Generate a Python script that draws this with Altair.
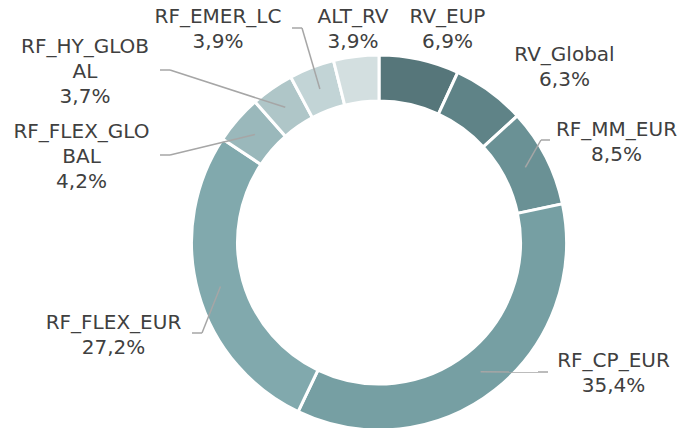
import altair as alt
import pandas as pd

# ---- data -------------------------------------------------------------
categories = ["RV_EUP", "RV_Global", "RF_MM_EUR", "RF_CP_EUR", "RF_FLEX_EUR",
              "RF_FLEX_GLOBAL", "RF_HY_GLOBAL", "RF_EMER_LC", "ALT_RV"]
shares = [6.9, 6.3, 8.5, 35.4, 27.2, 4.2, 3.7, 3.9, 3.9]
# names as they wrap in the labels
label_names = ["RV_EUP", "RV_Global", "RF_MM_EUR", "RF_CP_EUR", "RF_FLEX_EUR",
               "RF_FLEX_GLO\nBAL", "RF_HY_GLOB\nAL", "RF_EMER_LC", "ALT_RV"]

# ---- style ------------------------------------------------------------
colors = ["#56767a", "#5f8387", "#6a9195", "#769fa3", "#81a9ad",
          "#9ab8bb", "#afc6c8", "#c2d4d6", "#d3dfe0"]
OUTER_R, INNER_R = 187.5, 141.5
MID_R = (OUTER_R + INNER_R) / 2
W, H = 670, 420
CX, CY = 371, 234.5          # donut centre inside the view
LINE_H = 25
FONT_SIZE = 20

# label layout: text-block centre, connector knee and end (offsets from centre)
label_center = {
    "RV_EUP": (68.5, -213), "RV_Global": (185.5, -175.5),
    "RF_MM_EUR": (237.5, -100), "RF_CP_EUR": (234.5, 131),
    "RF_FLEX_EUR": (-265.5, 93), "RF_FLEX_GLOBAL": (-297.5, -85.5),
    "RF_HY_GLOBAL": (-294, -170.5), "RF_EMER_LC": (-161, -213),
    "ALT_RV": (-26, -213),
}
connector = {  # knee, end
    "RF_MM_EUR": ((162, -102.5), (171, -102.5)),
    "RF_CP_EUR": ((159, 129.5), (169, 129.5)),
    "RF_FLEX_EUR": ((-177, 90.5), (-187, 90.5)),
    "RF_FLEX_GLOBAL": ((-209, -87.5), (-219, -87.5)),
    "RF_HY_GLOBAL": ((-209, -172.5), (-219, -172.5)),
    "RF_EMER_LC": ((-77, -214.5), (-87, -214.5)),
}

rows = []
for i, (c, v, n) in enumerate(zip(categories, shares, label_names)):
    lx, ly = label_center[c]
    pct = f"{v:.1f}".replace(".", ",") + "%"
    text = n + "\n" + pct
    nlines = text.count("\n") + 1
    row = dict(idx=i, cat=c, value=v, label=text, lx=lx,
               ly=ly - (nlines - 1) * LINE_H / 2, has_line=c in connector)
    if c in connector:
        (kx, ky), (ex, ey) = connector[c]
        row.update(kx=kx, ky=ky, ex=ex, ey=ey)
    else:
        row.update(kx=0, ky=0, ex=0, ey=0)
    rows.append(row)
df = pd.DataFrame(rows)

xscale = alt.Scale(domain=[-CX, W - CX], nice=False, zero=False)
yscale = alt.Scale(domain=[-CY, H - CY], reverse=True, nice=False, zero=False)

base = alt.Chart(df)

ring = base.mark_arc(outerRadius=OUTER_R, innerRadius=INNER_R,
                     stroke="white", strokeWidth=3).encode(
    theta=alt.Theta("value:Q", stack=True),
    order=alt.Order("idx:Q", sort="ascending"),
    color=alt.Color("cat:N", scale=alt.Scale(domain=categories, range=colors), legend=None),
    x=alt.XDatum(0, type="quantitative", scale=xscale, axis=None),
    y=alt.YDatum(0, type="quantitative", scale=yscale, axis=None),
)

# leader lines start at the middle of the ring, at each slice's mid-angle
lines_base = base.transform_joinaggregate(
    total="sum(value)"
).transform_window(
    cum="sum(value)", sort=[alt.SortField("idx", order="ascending")], frame=[None, 0]
).transform_calculate(
    mid="(datum.cum - datum.value / 2) / datum.total * 2 * PI",
).transform_calculate(
    sx=f"{MID_R} * sin(datum.mid)", sy=f"-{MID_R} * cos(datum.mid)"
).transform_filter("datum.has_line")

seg1 = lines_base.mark_rule(color="#a6a6a6", strokeWidth=1.5).encode(
    x=alt.X("sx:Q", scale=xscale, axis=None), y=alt.Y("sy:Q", scale=yscale, axis=None),
    x2="kx:Q", y2="ky:Q",
)
seg2 = lines_base.mark_rule(color="#a6a6a6", strokeWidth=1.5).encode(
    x=alt.X("kx:Q", scale=xscale, axis=None), y=alt.Y("ky:Q", scale=yscale, axis=None),
    x2="ex:Q", y2="ey:Q",
)

labels = base.mark_text(align="center", baseline="middle", fontSize=FONT_SIZE,
                        lineHeight=LINE_H, font="Verdana, DejaVu Sans",
                        color="#404040", lineBreak="\n").encode(
    x=alt.X("lx:Q", scale=xscale, axis=None),
    y=alt.Y("ly:Q", scale=yscale, axis=None),
    text="label:N",
)

chart = alt.layer(ring, seg1, seg2, labels).properties(
    width=W, height=H, padding=0,
    autosize=alt.AutoSizeParams(type="none"),
).configure_view(strokeWidth=0)

chart.save("out.html", embed_options={"renderer": "svg", "actions": False})
